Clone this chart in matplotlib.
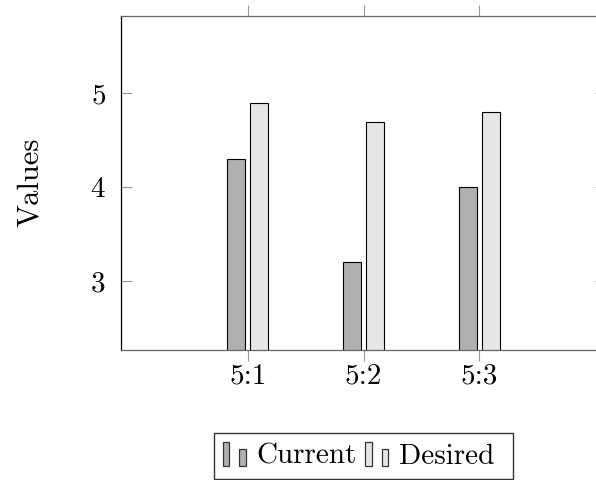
import numpy as np
import matplotlib
matplotlib.use("Agg")
import matplotlib.pyplot as plt
from matplotlib.patches import Rectangle
from matplotlib.legend_handler import HandlerBase

categories = ["5:1", "5:2", "5:3"]
current = [4.3, 3.2, 4.0]
desired = [4.9, 4.7, 4.8]

plt.rcParams['font.family'] = ['cmr10']
plt.rcParams['axes.formatter.use_mathtext'] = True
plt.rcParams['axes.unicode_minus'] = False


class TwoBarHandler(HandlerBase):
    # little pair of bars as legend image, like pgfplots' ybar legend
    def create_artists(self, legend, orig_handle, xdescent, ydescent,
                       width, height, fontsize, trans):
        fc = orig_handle.get_facecolor()
        w = width * 0.28
        r1 = Rectangle((-xdescent, -ydescent), w, height,
                       facecolor=fc, edgecolor='#333333', lw=0.9, transform=trans)
        r2 = Rectangle((-xdescent + width * 0.7, -ydescent), w, height * 0.7,
                       facecolor=fc, edgecolor='#333333', lw=0.9, transform=trans)
        return [r1, r2]


fig = plt.figure(figsize=(5.96, 4.8), dpi=100)
ax = fig.add_axes([121 / 596, 1 - 349.5 / 480, 485 / 596, 334 / 480])

x = np.arange(1, len(categories) + 1)
off = 0.1
bw = 0.156
b1 = ax.bar(x - off, current, bw, color='#b0b0b0', edgecolor='black', lw=0.8, label='Current')
b2 = ax.bar(x + off, desired, bw, color='#e6e6e6', edgecolor='black', lw=0.8, label='Desired')

ax.set_xlim(-0.095, 4.095)
ax.set_ylim(2.27, 5.83)
ax.set_xticks(x)
ax.set_xticklabels(categories)
ax.set_yticks([3, 4, 5])
ax.set_ylabel('Values', fontsize=22, labelpad=33)

ax.tick_params(axis='x', direction='out', length=8, width=0.8, color='#999999',
               top=True, labelsize=21, pad=2)
ax.tick_params(axis='y', direction='in', length=8, width=0.8, color='#999999',
               right=True, labelsize=21, pad=11)
for s in ['top', 'bottom']:
    ax.spines[s].set_color('#666666')
ax.spines['left'].set_color('black')
for s in ax.spines.values():
    s.set_linewidth(0.9)

handler = TwoBarHandler()
fig.legend(handles=[b1[0], b2[0]], labels=['Current', 'Desired '],
           handler_map={b1[0]: handler, b2[0]: handler},
           loc='upper left', bbox_to_anchor=(214 / 596, 1 - 433 / 480),
           ncol=2, fontsize=21, frameon=True, fancybox=False, edgecolor='black',
           handlelength=0.8, handleheight=0.9, handletextpad=0.35, columnspacing=0.3,
           borderpad=0.3, borderaxespad=0)

fig.savefig('out.png', dpi=100)
